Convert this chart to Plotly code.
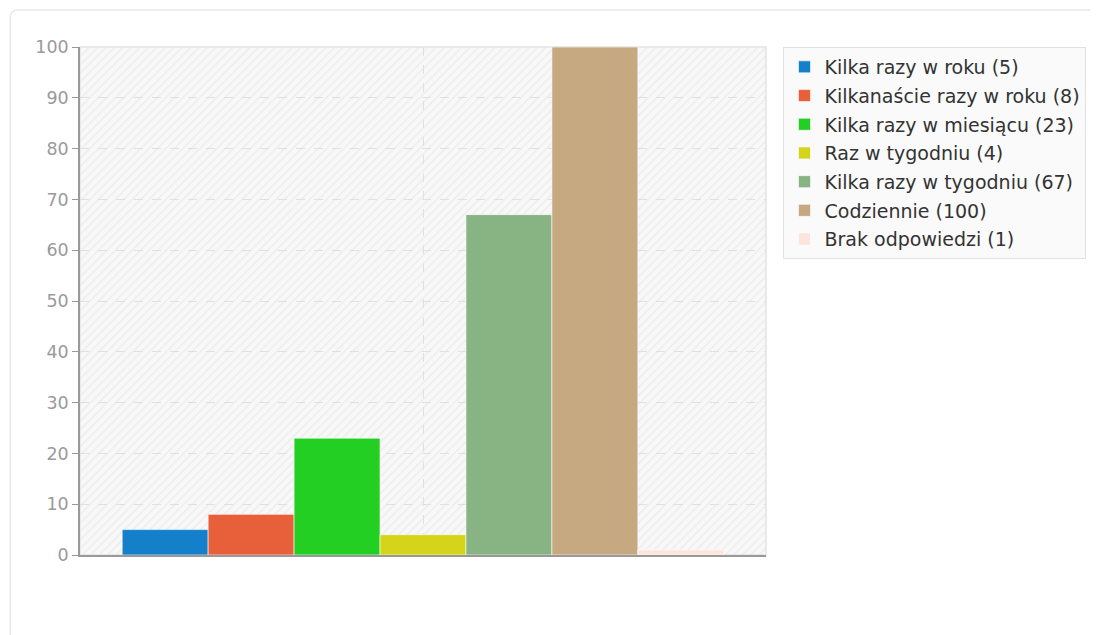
import base64
import plotly.graph_objects as go

categories = [
    "Kilka razy w roku (5)",
    "Kilkanaście razy w roku (8)",
    "Kilka razy w miesiącu (23)",
    "Raz w tygodniu (4)",
    "Kilka razy w tygodniu (67)",
    "Codziennie (100)",
    "Brak odpowiedzi (1)",
]
values = [5, 8, 23, 4, 67, 100, 1]
colors = ["#1380c9", "#e8603a", "#22cf22", "#d4d41a", "#88b383", "#c6a881", "#fde4dc"]
y_ticks = list(range(0, 101, 10))

# hatched plot background, as an svg image stretched over the plot area
_svg = (
    '<svg xmlns="http://www.w3.org/2000/svg" width="688" height="508" '
    'preserveAspectRatio="none">'
    '<defs><pattern id="p" width="6" height="6" patternUnits="userSpaceOnUse" '
    'patternTransform="rotate(45)">'
    '<rect width="6" height="6" fill="#f8f8f8"/>'
    '<rect width="1.4" height="6" fill="#ececec"/></pattern></defs>'
    '<rect width="688" height="508" fill="url(#p)"/></svg>'
)
bg_uri = "data:image/svg+xml;base64," + base64.b64encode(_svg.encode()).decode()

fig = go.Figure()
for i, (name, v, c) in enumerate(zip(categories, values, colors)):
    fig.add_trace(go.Bar(
        x=[""], y=[v], name=name, legendgroup=str(i),
        marker=dict(color=c, line=dict(color="rgba(255,255,255,0.6)", width=1)),
        hoverinfo="name+y",
    ))

# card outline (left + top edges with a rounded corner)
x0, y1 = (10 - 80) / 688, (555 - 10) / 508
dx, dy = 8 / 688, 8 / 508
card = (f"M {x0},-0.3 L {x0},{y1 - dy} Q {x0},{y1} {x0 + dx},{y1} L 1.6,{y1}")

# page body has an 8px margin, so the figure is 8px smaller and shifted
fig.update_layout(
    width=1090, height=627,
    margin=dict(l=72, r=330, t=39, b=80),
    paper_bgcolor="white",
    plot_bgcolor="#f8f8f8",
    font=dict(family="DejaVu Sans", size=18, color="#333333"),
    barmode="group", bargap=0.123, bargroupgap=0,
    showlegend=True,
    legend=dict(
        x=1.0255, y=1, xanchor="left", yanchor="top",
        bgcolor="#fafafa", bordercolor="#e2e2e2", borderwidth=1,
        font=dict(family="DejaVu Sans", size=19, color="#333333"),
        tracegroupgap=1, itemwidth=30,
    ),
    xaxis=dict(
        showgrid=True, gridcolor="#e0e0e0", griddash="dash", gridwidth=1,
        showticklabels=False, ticks="",
        showline=True, linecolor="#999999", linewidth=1.5,
        zeroline=False,
    ),
    yaxis=dict(
        range=[0, 100], tickvals=y_ticks,
        showgrid=True, gridcolor="#e0e0e0", griddash="dash", gridwidth=1,
        ticks="outside", ticklen=6, tickcolor="#999999",
        tickfont=dict(family="DejaVu Sans", size=17.5, color="#9a9a9a"),
        showline=True, linecolor="#999999", linewidth=1.5,
        zeroline=False,
    ),
    images=[dict(
        source=bg_uri, xref="paper", yref="paper", x=0, y=1,
        sizex=1, sizey=1, sizing="stretch", layer="below",
    )],
    shapes=[
        dict(type="rect", xref="paper", yref="paper", x0=0, y0=0, x1=1, y1=1,
             line=dict(color="#e4e4e4", width=1.5), layer="below"),
        dict(type="path", xref="paper", yref="paper", path=card,
             line=dict(color="#e8e8e8", width=1.5)),
    ],
)

fig.write_html("out.html")
